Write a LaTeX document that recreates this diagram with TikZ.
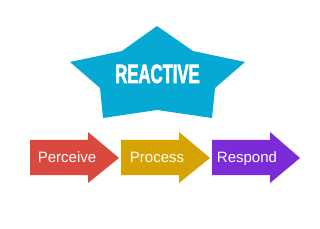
\documentclass[tikz,border=0pt]{standalone}
\usepackage{fontspec}
\setmainfont{Liberation Sans}
\newfontfamily\starfont[FakeStretch=0.63,FakeBold=2]{Liberation Sans Bold}
\definecolor{starblue}{HTML}{06A9D4}
\definecolor{arrred}{HTML}{D9493F}
\definecolor{arrgold}{HTML}{D5A304}
\definecolor{arrpurple}{HTML}{7B2CD7}
\begin{document}
\begin{tikzpicture}[x=1pt,y=-1pt,
  lbl/.style={text=white,font=\fontsize{15}{15}\selectfont,inner sep=0pt,anchor=base},
  arrowshape/.style={line join=miter}]
\useasboundingbox (0,0) rectangle (320,229);
% star
\fill[starblue] (157,26) -- (122,51) -- (70,62) -- (100,88) -- (103,118) -- (157,110)
  -- (212,118) -- (215,88) -- (245,62) -- (193,51) -- cycle;
\node[text=white,font=\starfont\fontsize{26.5}{26.5}\selectfont,inner sep=0pt,anchor=base] (reactive) at (157.5,83) {REACTIVE};
% arrows
\fill[arrred] (30,140) -- (88,140) -- (88,132) -- (119,158) -- (88,183) -- (88,175) -- (30,175) -- cycle;
\fill[arrgold] (121,140) -- (179,140) -- (179,132) -- (210,158) -- (179,183) -- (179,175) -- (121,175) -- cycle;
\fill[arrpurple] (212,140) -- (270,140) -- (270,132) -- (300,158) -- (270,183) -- (270,175) -- (212,175) -- cycle;
\node[lbl] (perceive) at (67,162) {Perceive};
\node[lbl] (process) at (157,162) {Process};
\node[lbl] (respond) at (247,162) {Respond};
\end{tikzpicture}
\end{document}
